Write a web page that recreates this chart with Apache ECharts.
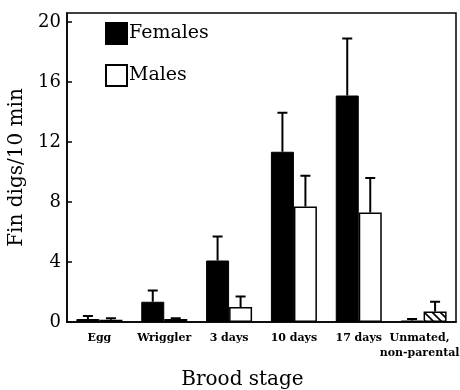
<!DOCTYPE html>
<html>
<head>
<meta charset="utf-8">
<script src="https://cdn.jsdelivr.net/npm/echarts@6/dist/echarts.min.js"></script>
<style>
  html, body { margin: 0; padding: 0; background: #fff; }
  #chart { width: 460px; height: 390px; }
</style>
</head>
<body>
<div id="chart"></div>
<script>
const categories = ['Egg', 'Wriggler', '3 days', '10 days', '17 days', 'Unmated,\nnon-parental'];
const females = [0.2, 1.35, 4.1, 11.35, 15.1, 0.1];
const femalesErr = [0.4, 2.1, 5.7, 13.95, 18.9, 0.2];
const males = [0.15, 0.2, 1.0, 7.7, 7.3, 0.7];
const malesErr = [0.25, 0.25, 1.7, 9.75, 9.6, 1.35];
const yTicks = [0, 4, 8, 12, 16, 20];

const serif = 'DejaVu Serif';
const BAR_W = 23;

// diagonal hatch for the unmated male bar
function hatch() {
  const c = document.createElement('canvas');
  c.width = 8; c.height = 8;
  const g = c.getContext('2d');
  g.fillStyle = '#fff';
  g.fillRect(0, 0, 8, 8);
  g.strokeStyle = '#000';
  g.lineWidth = 1.6;
  g.beginPath();
  g.moveTo(-2, -2); g.lineTo(10, 10);
  g.moveTo(-2, 6); g.lineTo(2, 10);
  g.moveTo(6, -2); g.lineTo(10, 2);
  g.stroke();
  return c;
}

const errData = [];
females.forEach((v, i) => errData.push([i, v, femalesErr[i], -1]));
males.forEach((v, i) => errData.push([i, v, malesErr[i], 1]));

const chart = echarts.init(document.getElementById('chart'));
chart.setOption({
  animation: false,
  backgroundColor: '#fff',
  grid: {
    left: 67, right: 4, top: 13, bottom: 68,
    outerBoundsMode: 'none',
    show: true, borderColor: '#000', borderWidth: 1.5
  },
  legend: {
    data: ['Females', 'Males'],
    orient: 'vertical',
    icon: 'rect',
    left: 100, top: 17,
    itemWidth: 21, itemHeight: 21, itemGap: 19,
    textStyle: { fontFamily: serif, fontSize: 19, color: '#000', padding: [0, 0, 0, -3] }
  },
  xAxis: {
    type: 'category',
    data: categories,
    axisLine: { lineStyle: { color: '#000', width: 1.5 } },
    axisTick: { show: false },
    axisLabel: {
      interval: 0, fontFamily: serif, fontSize: 11, fontWeight: 'bold',
      color: '#000', margin: 9, lineHeight: 15,
      // last label sits against the right edge, nudge it left
      formatter: (v, i) => (i === categories.length - 1 ? '{r|' + v.replace('\n', '}\n{r|') + '}' : v),
      rich: { r: { fontFamily: serif, fontSize: 11, fontWeight: 'bold', lineHeight: 15, padding: [0, 8, 0, 0] } }
    },
    name: 'Brood stage',
    nameLocation: 'middle',
    nameGap: 48,
    nameTextStyle: { fontFamily: serif, fontSize: 20, color: '#000', padding: [0, 38, 0, 0] }
  },
  yAxis: {
    type: 'value',
    min: 0, max: 20.6, interval: 4,
    splitLine: { show: false },
    axisLine: { show: true, lineStyle: { color: '#000', width: 1.5 } },
    axisTick: { show: true, inside: true, length: 5, lineStyle: { color: '#000', width: 1.5 } },
    axisLabel: {
      fontFamily: serif, fontSize: 18, color: '#000', margin: 6,
      showMaxLabel: false,
      formatter: v => (yTicks.includes(v) ? String(v) : '')
    },
    name: 'Fin digs/10 min',
    nameLocation: 'middle',
    nameGap: 38,
    nameTextStyle: { fontFamily: serif, fontSize: 20, color: '#000' }
  },
  series: [
    {
      name: 'Females', type: 'bar', data: females,
      barWidth: BAR_W, barGap: '0%',
      itemStyle: { color: '#000', borderColor: '#000', borderWidth: 1 }
    },
    {
      name: 'Males', type: 'bar',
      data: males.map((v, i) => i === 5
        ? { value: v, itemStyle: { color: { image: hatch(), repeat: 'repeat' } } }
        : v),
      barWidth: BAR_W,
      itemStyle: { color: '#fff', borderColor: '#000', borderWidth: 1.5 }
    },
    {
      name: 'err', type: 'custom', data: errData, z: 5,
      renderItem: (params, api) => {
        const off = api.value(3) * BAR_W / 2;
        const base = api.coord([api.value(0), api.value(1)]);
        const top = api.coord([api.value(0), api.value(2)]);
        const x = base[0] + off;
        const st = { stroke: '#000', lineWidth: 2 };
        return {
          type: 'group',
          children: [
            { type: 'line', shape: { x1: x, y1: base[1], x2: x, y2: top[1] }, style: st },
            { type: 'line', shape: { x1: x - 5, y1: top[1], x2: x + 5, y2: top[1] }, style: st }
          ]
        };
      }
    }
  ]
});
</script>
</body>
</html>
